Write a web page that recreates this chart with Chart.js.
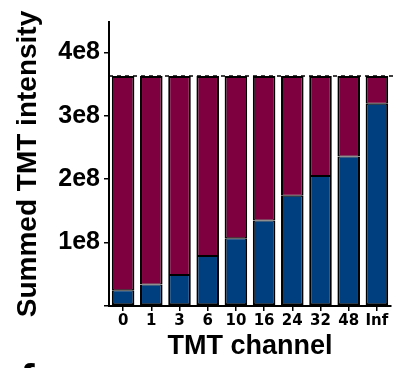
<!DOCTYPE html>
<html>
<head>
<meta charset="utf-8">
<script src="https://cdn.jsdelivr.net/npm/chart.js@4"></script>
<style>
  html, body { margin: 0; padding: 0; background: #fff; }
  #wrap { width: 406px; height: 368px; position: relative; }
</style>
</head>
<body>
<div id="wrap"><canvas id="chart"></canvas></div>
<script>
// Valores
const channels = ['0', '1', '3', '6', '10', '16', '24', '32', '48', 'Inf'];
const channelIntensity = [0.25e8, 0.34e8, 0.49e8, 0.79e8, 1.07e8, 1.35e8, 1.74e8, 2.05e8, 2.36e8, 3.19e8];
const remainingIntensity = [3.38e8, 3.29e8, 3.14e8, 2.84e8, 2.56e8, 2.28e8, 1.89e8, 1.58e8, 1.27e8, 0.44e8];
const totalLine = 3.63e8;
const yTickValues = [0, 1e8, 2e8, 3e8, 4e8];
const yTickLabels = ['', '1e8', '2e8', '3e8', '4e8'];
const panelLetter = 'f';

const blue = '#003f7f';
const red = '#7f003f';

// Linha tracejada do total + letra do painel seguinte
const extras = {
  id: 'extras',
  afterDatasetsDraw(chart) {
    const { ctx, chartArea, scales } = chart;
    const y = scales.y.getPixelForValue(totalLine);
    ctx.save();
    ctx.strokeStyle = '#000';
    ctx.lineWidth = 1.5;
    ctx.setLineDash([4, 4]);
    ctx.beginPath();
    ctx.moveTo(chartArea.left, y);
    ctx.lineTo(chartArea.right + 2, y);
    ctx.stroke();
    ctx.restore();
  },
  afterDraw(chart) {
    const ctx = chart.ctx;
    ctx.save();
    ctx.fillStyle = '#000';
    ctx.font = 'bold 44px "Liberation Sans"';
    ctx.textBaseline = 'alphabetic';
    ctx.fillText(panelLetter, 20, 395);
    ctx.restore();
  }
};

const ctx = document.getElementById('chart').getContext('2d');
new Chart(ctx, {
  type: 'bar',
  data: {
    labels: channels,
    datasets: [
      {
        label: 'Channel',
        data: channelIntensity,
        backgroundColor: blue,
        borderColor: '#000',
        borderWidth: { left: 2, right: 2, bottom: 2, top: 1 },
        borderSkipped: false,
        barPercentage: 0.8,
        categoryPercentage: 1.0
      },
      {
        label: 'Remaining',
        data: remainingIntensity,
        backgroundColor: red,
        borderColor: '#000',
        borderWidth: { left: 2, right: 2, top: 2, bottom: 1 },
        borderSkipped: false,
        barPercentage: 0.8,
        categoryPercentage: 1.0
      }
    ]
  },
  options: {
    responsive: true,
    maintainAspectRatio: false,
    animation: false,
    layout: { padding: { left: 0, right: 15, top: 22, bottom: 0 } },
    plugins: { legend: { display: false }, tooltip: { enabled: false } },
    scales: {
      x: {
        stacked: true,
        border: { color: '#000', width: 2 },
        grid: { offset: false, drawOnChartArea: false, tickLength: 5, color: '#000', lineWidth: 1.5 },
        ticks: {
          color: '#000',
          font: { family: 'DejaVu Sans', weight: 'bold', size: 15 },
          padding: 1,
          maxRotation: 0,
          autoSkip: false
        },
        title: {
          display: true,
          text: 'TMT channel',
          color: '#000',
          font: { family: 'Liberation Sans', weight: 'bold', size: 27 },
          padding: { top: 0, bottom: 5 }
        },
        afterFit(scale) { scale.height = 62; }
      },
      y: {
        stacked: true,
        min: 0,
        max: 4.48e8,
        border: { color: '#000', width: 2 },
        grid: { drawOnChartArea: false, tickLength: 5, color: '#000', lineWidth: 1.5 },
        afterBuildTicks(scale) {
          scale.ticks = yTickValues.map(v => ({ value: v }));
        },
        ticks: {
          color: '#000',
          font: { family: 'Liberation Sans', weight: 'bold', size: 25 },
          padding: 4,
          callback: (value, i) => yTickLabels[i]
        },
        title: {
          display: true,
          text: 'Summed TMT intensity',
          color: '#000',
          font: { family: 'Liberation Sans', weight: 'bold', size: 28 },
          padding: { top: 11, bottom: 0 }
        },
        afterFit(scale) { scale.width = 109; }
      }
    }
  },
  plugins: [extras]
});
</script>
</body>
</html>
